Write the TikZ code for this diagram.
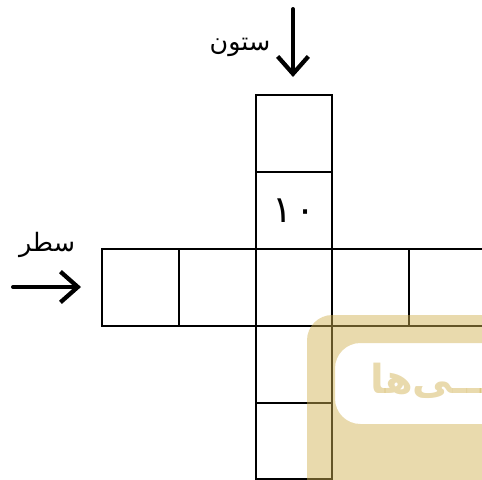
\documentclass[tikz,border=0pt]{standalone}
\usepackage{fontspec}
\TeXXeTstate=1
\newfontfamily\arabicfont[Script=Arabic]{DejaVu Sans}
\usetikzlibrary{arrows.meta}
\definecolor{wmc}{RGB}{208,177,83}
\begin{document}
\begin{tikzpicture}[x=0.75pt,y=-0.75pt,
  cell/.style={draw=black, line width=1.6pt, minimum width=57.6pt, minimum height=57.6pt, inner sep=0pt},
  bigarrow/.style={line width=3pt, line cap=round, -{Straight Barb[length=13pt,width=23pt,line width=3.2pt]}},
  lbl/.style={font=\arabicfont\fontsize{19}{22}\selectfont, inner sep=0pt}]
\useasboundingbox (0,0) rectangle (482,479);
\clip (0,0) rectangle (482,479);
% column cells
\node[cell] (k1) at (294,133.8) {};
\node[cell] (k2) at (294,210.6) {};
\node[anchor=center, inner sep=0pt, font=\arabicfont\fontsize{28}{32}\selectfont] (ten) at (k2.center) {۱\hspace{2pt}۰};
\node[cell] (k4) at (294,364.2) {};
\node[cell] (k5) at (294,441.0) {};
% row cells
\node[cell] (r1) at (140.6,287.4) {};
\node[cell] (r2) at (217.3,287.4) {};
\node[cell] (r3) at (294,287.4) {};
\node[cell] (r4) at (370.7,287.4) {};
\node[cell] (r5) at (447.4,287.4) {};
% arrows
\coordinate (cs) at (293,9);
\coordinate (ce) at (293,77);
\draw[bigarrow] (cs) -- (ce);
\node[lbl] (cl) at (240,47) {\beginR ستون\endR};
\coordinate (rs) at (13,287);
\coordinate (re) at (81,287);
\draw[bigarrow] (rs) -- (re);
\node[lbl] (rl) at (47,245) {\beginR سطر\endR};
% watermark
\fill[wmc, fill opacity=0.48, even odd rule, rounded corners=19pt]
  (307,315) rectangle (600,600)
  (335,343) rectangle (700,424);
\node[text=wmc, text opacity=0.48, inner sep=0pt, anchor=west, font=\arabicfont\bfseries\fontsize{30}{34}\selectfont] (wt) at (370,381) {\beginR ـــی‌ها\endR};
\end{tikzpicture}
\end{document}
